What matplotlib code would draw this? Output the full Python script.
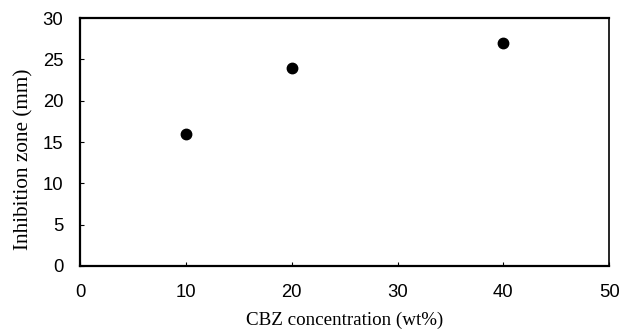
import matplotlib
matplotlib.use("Agg")
import matplotlib.pyplot as plt

# CBZ concentration vs inhibition zone
cbz_conc = [10, 20, 40]
inhibition_zone = [16, 24, 27]
x_ticks = [0, 10, 20, 30, 40, 50]
y_ticks = [0, 5, 10, 15, 20, 25, 30]

fig = plt.figure(figsize=(6.21, 3.35), dpi=100)
ax = fig.add_axes([0.129, 0.206, 0.852, 0.740])

ax.plot(cbz_conc, inhibition_zone, 'o', color='black', markersize=7.5, linestyle='none')

ax.set_xlim(0, 50)
ax.set_ylim(0, 30)
ax.set_xticks(x_ticks)
ax.set_yticks(y_ticks)
ax.tick_params(direction='in', length=3, width=0.8, labelsize=13.3)
ax.tick_params(axis='x', pad=13)
ax.tick_params(axis='y', pad=12)
for lab in ax.get_xticklabels() + ax.get_yticklabels():
    lab.set_family('Liberation Sans')

for side in ['left', 'bottom', 'top']:
    ax.spines[side].set_linewidth(1.6)
ax.spines['right'].set_linewidth(1.2)

ax.set_xlabel('CBZ concentration (wt%)', family='Liberation Serif', fontsize=13.7, labelpad=8)
ax.set_ylabel('Inhibition zone (mm)', family='Liberation Serif', fontsize=15.3)
ax.yaxis.set_label_coords(-0.089, 0.43)

fig.savefig('out.png', dpi=100)
